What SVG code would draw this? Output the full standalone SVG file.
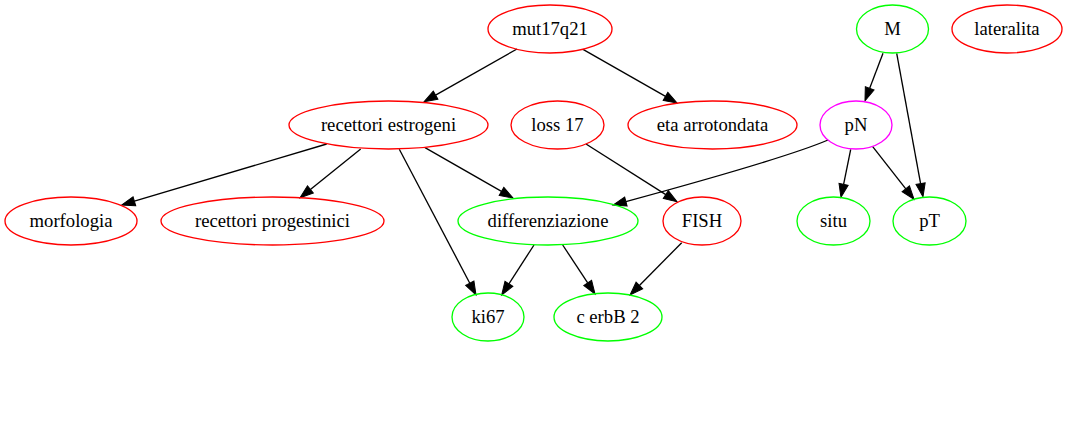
<svg xmlns="http://www.w3.org/2000/svg" width="1067" height="437" viewBox="0 0 1067 437">
<style>
  .n ellipse { fill: none; stroke-width: 1.33; }
  .n text { font-family: "Liberation Serif", "Times New Roman", serif; font-size: 18.67px; text-anchor: middle; fill: #000; }
  .r ellipse { stroke: #ff0000; }
  .g ellipse { stroke: #00ff00; }
  .m ellipse { stroke: #ff00ff; }
  #edges path { fill: none; stroke: #000; stroke-width: 1.33; marker-end: url(#arr); }
</style>
<defs>
  <marker id="arr" markerUnits="userSpaceOnUse" markerWidth="14" markerHeight="10" refX="0" refY="5" orient="auto" overflow="visible">
    <path d="M0,0.33 L13.3,5 L0,9.67 z" fill="#000" stroke="#000" stroke-width="1"/>
  </marker>
</defs>
<rect width="1067" height="437" fill="#fff"/>
<g id="edges">
  <path d="M517,49 L435.6,95.1"/>
  <path d="M583,49.3 L665.5,96.4"/>
  <path d="M326.7,144 L134.4,201.2"/>
  <path d="M360.7,149 L310.4,189.4"/>
  <path d="M399.3,149.3 L469.8,283.2"/>
  <path d="M425,147.7 L501.5,191.4"/>
  <path d="M586,144 L665.8,194.6"/>
  <path d="M828,140 C800,152 720,176 625.9,201.6"/>
  <path d="M883,53.3 L869.7,88.3"/>
  <path d="M896.7,53.3 L920.6,183.6"/>
  <path d="M850.7,149.3 L843.6,184.3"/>
  <path d="M872.7,146.7 L905.8,188.8"/>
  <path d="M534,245 L508.9,283.8"/>
  <path d="M562.7,245 L587.7,282.9"/>
  <path d="M681.7,242.7 L639.4,285.5"/>
</g>
<g id="mut17q21" class="n r"><ellipse cx="550" cy="29" rx="62" ry="24"/><text x="550" y="35">mut17q21</text></g>
<g id="M" class="n g"><ellipse cx="892.5" cy="29" rx="36" ry="24"/><text x="892.5" y="35">M</text></g>
<g id="lateralita" class="n r"><ellipse cx="1007" cy="29" rx="55" ry="24"/><text x="1007" y="35">lateralita</text></g>
<g id="recettori_estrogeni" class="n r"><ellipse cx="388.5" cy="125" rx="99.5" ry="24"/><text x="388.5" y="131">recettori estrogeni</text></g>
<g id="loss_17" class="n r"><ellipse cx="557.5" cy="125" rx="46.5" ry="24"/><text x="557.5" y="131">loss 17</text></g>
<g id="eta_arrotondata" class="n r"><ellipse cx="712.5" cy="125" rx="84.5" ry="24"/><text x="712.5" y="131">eta arrotondata</text></g>
<g id="pN" class="n m"><ellipse cx="856" cy="125" rx="36" ry="24"/><text x="856" y="131">pN</text></g>
<g id="morfologia" class="n r"><ellipse cx="71" cy="221" rx="66" ry="24"/><text x="71" y="227">morfologia</text></g>
<g id="recettori_progestinici" class="n r"><ellipse cx="272.5" cy="221" rx="111.5" ry="24"/><text x="272.5" y="227">recettori progestinici</text></g>
<g id="differenziazione" class="n g"><ellipse cx="548" cy="221" rx="90" ry="24"/><text x="548" y="227">differenziazione</text></g>
<g id="FISH" class="n r"><ellipse cx="702" cy="221" rx="39" ry="24"/><text x="702" y="227">FISH</text></g>
<g id="situ" class="n g"><ellipse cx="833.5" cy="221" rx="36.5" ry="24"/><text x="833.5" y="227">situ</text></g>
<g id="pT" class="n g"><ellipse cx="929.5" cy="221" rx="36.5" ry="24"/><text x="929.5" y="227">pT</text></g>
<g id="ki67" class="n g"><ellipse cx="488" cy="317" rx="36" ry="24"/><text x="488" y="323">ki67</text></g>
<g id="c_erbB_2" class="n g"><ellipse cx="608" cy="317" rx="54" ry="24"/><text x="608" y="323">c erbB 2</text></g>
</svg>
